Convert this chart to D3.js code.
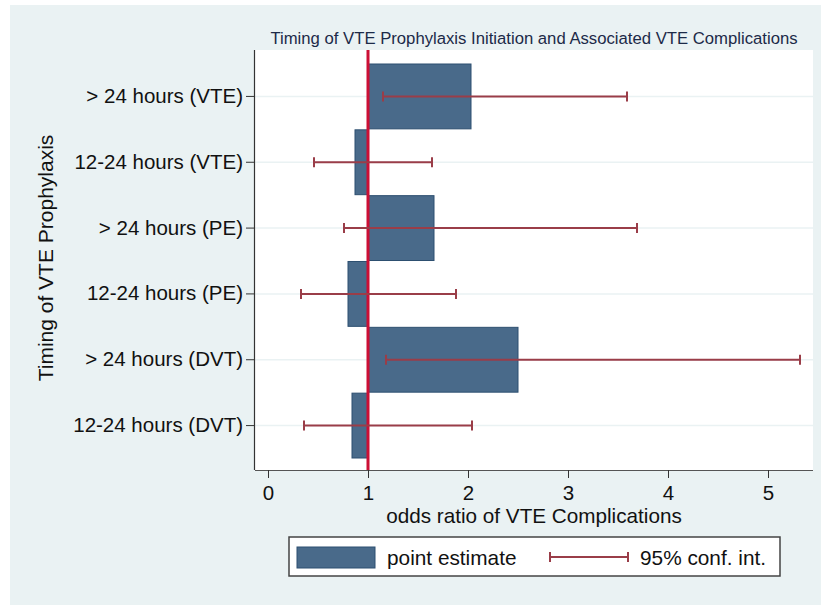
<!DOCTYPE html>
<html lang="en">
<head>
<meta charset="UTF-8">
<title>Timing of VTE Prophylaxis Initiation and Associated VTE Complications</title>
<script src="https://d3js.org/d3.v7.min.js"></script>
<style>
    body { margin: 0; background: #fff; font-family: "Liberation Sans", Arial, sans-serif; }
    svg { display: block; }
</style>
</head>
<body>
<div id="chart"></div>
<script>
// categories, top to bottom
const categories = ["> 24 hours (VTE)", "12-24 hours (VTE)", "> 24 hours (PE)",
                    "12-24 hours (PE)", "> 24 hours (DVT)", "12-24 hours (DVT)"];
// odds ratios (point estimate) and 95% CI bounds
const oddsRatio = [2.03, 0.87, 1.66, 0.80, 2.50, 0.84];
const ciLow     = [1.15, 0.46, 0.76, 0.33, 1.18, 0.36];
const ciHigh    = [3.59, 1.64, 3.69, 1.88, 5.32, 2.04];
const xTicks = [0, 1, 2, 3, 4, 5];
const refValue = 1;

const width = 821, height = 605;
const plot = { left: 255, right: 813, top: 50, bottom: 470 };

const rows = categories.map((c, i) => ({ cat: c, or: oddsRatio[i], lo: ciLow[i], hi: ciHigh[i] }));

const svg = d3.select("#chart").append("svg")
    .attr("width", width)
    .attr("height", height);

// graph region background
svg.append("rect")
    .attr("x", 10).attr("y", 5)
    .attr("width", width - 10).attr("height", height - 5)
    .attr("fill", "#eaf2f3");

// plot area
svg.append("rect")
    .attr("x", plot.left).attr("y", plot.top)
    .attr("width", plot.right - plot.left).attr("height", plot.bottom - plot.top)
    .attr("fill", "#fff");

const x = d3.scaleLinear()
    .domain([-0.13, 5.45])
    .range([plot.left, plot.right]);

const y = d3.scaleBand()
    .domain(categories)
    .range([plot.top + 14, plot.bottom - 12])
    .paddingInner(0.015)
    .paddingOuter(0);

const yc = d => y(d) + y.bandwidth() / 2;

// horizontal gridlines
svg.append("g")
    .selectAll("line")
    .data(categories)
    .join("line")
    .attr("x1", plot.left).attr("x2", plot.right)
    .attr("y1", yc).attr("y2", yc)
    .attr("stroke", "#eaf2f3")
    .attr("stroke-width", 1.5);

// bars from 1 to the point estimate
svg.append("g")
    .selectAll("rect")
    .data(rows)
    .join("rect")
    .attr("x", d => x(Math.min(refValue, d.or)))
    .attr("y", d => y(d.cat))
    .attr("width", d => Math.abs(x(d.or) - x(refValue)))
    .attr("height", y.bandwidth())
    .attr("fill", "#496a8a")
    .attr("stroke", "#2d4f70")
    .attr("stroke-width", 1);

// reference line at 1
svg.append("line")
    .attr("x1", x(refValue)).attr("x2", x(refValue))
    .attr("y1", plot.top).attr("y2", plot.bottom)
    .attr("stroke", "#cc0f35")
    .attr("stroke-width", 3);

// confidence intervals
const ciColor = "#9a3d48";
const ci = svg.append("g")
    .selectAll("g")
    .data(rows)
    .join("g")
    .attr("stroke", ciColor)
    .attr("stroke-width", 2);

ci.append("line")
    .attr("x1", d => x(d.lo)).attr("x2", d => x(d.hi))
    .attr("y1", d => yc(d.cat)).attr("y2", d => yc(d.cat));
ci.append("line")
    .attr("x1", d => x(d.lo)).attr("x2", d => x(d.lo))
    .attr("y1", d => yc(d.cat) - 5).attr("y2", d => yc(d.cat) + 5);
ci.append("line")
    .attr("x1", d => x(d.hi)).attr("x2", d => x(d.hi))
    .attr("y1", d => yc(d.cat) - 5).attr("y2", d => yc(d.cat) + 5);

// axes
const xAxis = svg.append("g")
    .attr("transform", `translate(0,${plot.bottom})`)
    .call(d3.axisBottom(x).tickValues(xTicks).tickFormat(d3.format("d")).tickSize(8).tickPadding(7));
xAxis.select(".domain").attr("stroke", "#555").attr("stroke-width", 1.2)
    .attr("d", `M${plot.left},0.5H${plot.right}`);
xAxis.selectAll(".tick line").attr("stroke", "#333");
xAxis.selectAll("text")
    .attr("fill", "#111")
    .style("font-size", "20.5px")
    .style("font-family", "'Liberation Sans', Arial, sans-serif");

const yAxis = svg.append("g")
    .attr("transform", `translate(${plot.left},0)`)
    .call(d3.axisLeft(y).tickSize(9).tickPadding(3));
yAxis.select(".domain").attr("stroke", "#333").attr("stroke-width", 1.2)
    .attr("d", `M-0.5,${plot.top}V${plot.bottom}`);
yAxis.selectAll(".tick line").attr("stroke", "#333");
yAxis.selectAll("text")
    .attr("fill", "#111")
    .style("font-size", "20.5px")
    .style("font-family", "'Liberation Sans', Arial, sans-serif");

// titles
svg.append("text")
    .attr("x", 534).attr("y", 44)
    .attr("text-anchor", "middle")
    .attr("fill", "#1c2a48")
    .style("font-size", "16.7px")
    .text("Timing of VTE Prophylaxis Initiation and Associated VTE Complications");

svg.append("text")
    .attr("x", 534).attr("y", 523)
    .attr("text-anchor", "middle")
    .attr("fill", "#111")
    .style("font-size", "20.7px")
    .text("odds ratio of VTE Complications");

svg.append("text")
    .attr("transform", "translate(53,258) rotate(-90)")
    .attr("text-anchor", "middle")
    .attr("fill", "#111")
    .style("font-size", "21px")
    .text("Timing of VTE Prophylaxis");

// legend
const lg = svg.append("g").attr("transform", "translate(289,537)");
lg.append("rect")
    .attr("width", 491).attr("height", 39)
    .attr("fill", "#fff")
    .attr("stroke", "#444")
    .attr("stroke-width", 1.5);
lg.append("rect")
    .attr("x", 8).attr("y", 10).attr("width", 78).attr("height", 21)
    .attr("fill", "#496a8a").attr("stroke", "#2d4f70");
lg.append("text")
    .attr("x", 98).attr("y", 28)
    .attr("fill", "#111").style("font-size", "20.8px")
    .text("point estimate");
const lci = lg.append("g").attr("stroke", ciColor).attr("stroke-width", 2);
lci.append("line").attr("x1", 261).attr("x2", 339).attr("y1", 20).attr("y2", 20);
lci.append("line").attr("x1", 261).attr("x2", 261).attr("y1", 15).attr("y2", 25);
lci.append("line").attr("x1", 339).attr("x2", 339).attr("y1", 15).attr("y2", 25);
lg.append("text")
    .attr("x", 351).attr("y", 28)
    .attr("fill", "#111").style("font-size", "20.8px")
    .text("95% conf. int.");
</script>
</body>
</html>
